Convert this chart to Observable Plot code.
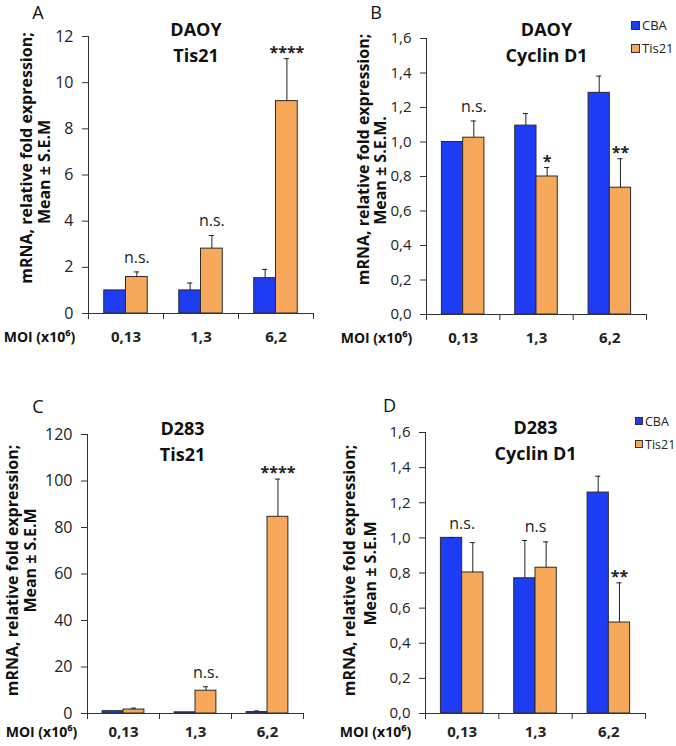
<!DOCTYPE html>
<html><head><meta charset="utf-8">
<script src="https://cdn.jsdelivr.net/npm/d3@7"></script>
<script src="https://cdn.jsdelivr.net/npm/@observablehq/plot@0.6"></script>
<style>
body{margin:0;background:#fff;font-family:"Open Sans",sans-serif;}
#root{position:relative;width:676px;height:746px;overflow:hidden;background:#fff}
.panel{position:absolute}
.li{position:absolute;display:flex;align-items:center;white-space:nowrap;color:#222;font-family:"Open Sans",sans-serif}
.sw{display:inline-block;border:1px solid #333;box-sizing:border-box;margin-right:2px}
</style></head><body><div id="root"></div>
<script>
// ---------- data ----------
const moi = ["0,13", "1,3", "6,2"];
const seriesNames = ["CBA", "Tis21"];
const seriesColors = ["#1f3cf5", "#f7a85b"];

// Panel A: DAOY Tis21
const aCBA = [1.0, 1.0, 1.53];
const aCBAsem = [0, 0.32, 0.38];
const aTis = [1.58, 2.81, 9.2];
const aTisSem = [0.22, 0.57, 1.84];
const aTicks = [0, 2, 4, 6, 8, 10, 12];
const aNotes = [{i: 0, label: "n.s.", over: "Tis21"}, {i: 1, label: "n.s.", over: "Tis21"}, {i: 2, label: "****", over: "Tis21"}];

// Panel B: DAOY Cyclin D1
const bCBA = [1.0, 1.095, 1.285];
const bCBAsem = [0, 0.07, 0.097];
const bTis = [1.025, 0.80, 0.735];
const bTisSem = [0.097, 0.052, 0.168];
const bTicks = [0, 0.2, 0.4, 0.6, 0.8, 1.0, 1.2, 1.4, 1.6];
const bNotes = [{i: 0, label: "n.s.", over: "Tis21"}, {i: 1, label: "*", over: "Tis21"}, {i: 2, label: "**", over: "Tis21"}];

// Panel C: D283 Tis21
const cCBA = [1.0, 0.5, 0.6];
const cCBAsem = [0, 0, 0.5];
const cTis = [1.7, 9.8, 84.6];
const cTisSem = [0.6, 1.7, 16.2];
const cTicks = [0, 20, 40, 60, 80, 100, 120];
const cNotes = [{i: 1, label: "n.s.", over: "Tis21"}, {i: 2, label: "****", over: "Tis21"}];

// Panel D: D283 Cyclin D1
const dCBA = [1.0, 0.77, 1.258];
const dCBAsem = [0.002, 0.215, 0.093];
const dTis = [0.803, 0.83, 0.518];
const dTisSem = [0.17, 0.147, 0.226];
const dTicks = [0, 0.2, 0.4, 0.6, 0.8, 1.0, 1.2, 1.4, 1.6];
const dNotes = [{i: 0, label: "n.s.", over: "both"}, {i: 1, label: "n.s", over: "both"}, {i: 2, label: "**", over: "Tis21"}];

// ---------- drawing ----------
const FONT = "Open Sans";
const slot = {CBA: [0.21, 0.5], Tis21: [0.5, 0.79]};
const mid = s => (slot[s][0] + slot[s][1]) / 2;
const comma1 = d => d.toFixed(1).replace(".", ",");

function panel(cfg) {
  const rows = moi.flatMap((m, i) => [
    {i, series: "CBA", value: cfg.cba[i], sem: cfg.cbaSem[i]},
    {i, series: "Tis21", value: cfg.tis[i], sem: cfg.tisSem[i]}
  ]);
  const errs = rows.filter(d => d.sem > 0);
  const notes = cfg.notes.map(n => {
    const c = rows.find(r => r.i === n.i && r.series === "CBA");
    const t = rows.find(r => r.i === n.i && r.series === "Tis21");
    const top = n.over === "both" ? Math.max(c.value + c.sem, t.value + t.sem) : t.value + t.sem;
    return {...n, x: n.over === "both" ? n.i + 0.5 : n.i + mid("Tis21"), y: top};
  });
  const stars = notes.filter(n => n.label.startsWith("*"));
  const ns = notes.filter(n => !n.label.startsWith("*"));
  const [mt, mr, mb, ml] = cfg.margin;
  const el = Plot.plot({
    width: cfg.width, height: cfg.height,
    marginTop: mt, marginRight: mr, marginBottom: mb, marginLeft: ml,
    style: {fontFamily: FONT, fontSize: "15px", color: "#222", background: "transparent", overflow: "visible"},
    x: {domain: [0, 3]},
    y: {domain: [cfg.yTicks[0], cfg.yTicks[cfg.yTicks.length - 1]]},
    color: {domain: seriesNames, range: seriesColors},
    marks: [
      Plot.rect(rows, {x1: d => d.i + slot[d.series][0], x2: d => d.i + slot[d.series][1], y1: 0, y2: "value", fill: "series", stroke: "#2b2b2b", strokeWidth: 1}),
      Plot.ruleX(errs, {x: d => d.i + mid(d.series), y1: "value", y2: d => d.value + d.sem, stroke: "#222", strokeWidth: 1}),
      Plot.ruleY(errs, {y: d => d.value + d.sem, x1: d => d.i + mid(d.series) - 0.035, x2: d => d.i + mid(d.series) + 0.035, stroke: "#222", strokeWidth: 1}),
      Plot.ruleY([0], {stroke: "#333"}),
      Plot.ruleX([0], {stroke: "#333"}),
      Plot.axisY({ticks: cfg.yTicks, tickFormat: cfg.yFormat, tickSize: 6, tickPadding: 9, label: null, fontSize: cfg.tickFont, stroke: "#333"}),
      Plot.axisX({ticks: [0, 1, 2, 3], tickFormat: () => "", tickSize: 6, label: null, stroke: "#333"}),
      Plot.axisX({ticks: [0.5, 1.5, 2.5], tickFormat: d => moi[Math.floor(d)], tickSize: 0, tickPadding: cfg.catPad, label: null, fontWeight: "bold", fontSize: 15}),
      Plot.text(ns, {x: "x", y: "y", text: "label", lineAnchor: "bottom", dy: -9, fontSize: 16, fill: "#222"}),
      Plot.text(stars, {x: "x", y: "y", text: "label", lineAnchor: "bottom", dy: -1, fontSize: 16, fontWeight: "bold", fill: "#222"}),
      Plot.text([cfg.title], {frameAnchor: "top", lineAnchor: "middle", dx: cfg.titleD[0], dy: cfg.titleD[1], fontSize: 18, fontWeight: "bold", lineHeight: 1.45, fill: "#111"}),
      Plot.text([cfg.letter], {frameAnchor: "top-left", lineAnchor: "middle", textAnchor: "middle", dx: cfg.letterD[0], dy: cfg.letterD[1], fontSize: 18, fill: "#111"}),
      Plot.text([cfg.ylab[0]], {frameAnchor: "left", rotate: -90, textAnchor: "middle", lineAnchor: "middle", dx: cfg.ylab1D[0], dy: cfg.ylab1D[1], fontSize: 16, fontWeight: "bold", fill: "#111"}),
      Plot.text([cfg.ylab[1]], {frameAnchor: "left", rotate: -90, textAnchor: "middle", lineAnchor: "middle", dx: cfg.ylab2D[0], dy: cfg.ylab2D[1], fontSize: 16, fontWeight: "bold", fill: "#111"}),
      Plot.text(["MOI (x10⁶)"], {frameAnchor: "bottom-left", textAnchor: "middle", lineAnchor: "middle", dx: cfg.moiD[0], dy: cfg.moiD[1], fontSize: 14, fontWeight: "bold", fill: "#111"})
    ]
  });
  el.classList.add("panel");
  el.style.left = cfg.left + "px";
  el.style.top = cfg.top + "px";
  document.getElementById("root").appendChild(el);
}

const intFmt = d => String(d);

panel({left: 0, top: 0, width: 338, height: 360, margin: [36, 25, 47, 88],
  cba: aCBA, cbaSem: aCBAsem, tis: aTis, tisSem: aTisSem, yTicks: aTicks, yFormat: intFmt, notes: aNotes, tickFont: 16,
  title: "DAOY\nTis21", titleD: [-5, 4], letter: "A", letterD: [-50.5, -23],
  ylab: ["mRNA, relative fold expression;", "Mean ± S.E.M"], ylab1D: [-62, -17], ylab2D: [-44, -3],
  catPad: 18, moiD: [-49, 24]});

panel({left: 338, top: 0, width: 338, height: 360, margin: [38, 30, 46, 88],
  cba: bCBA, cbaSem: bCBAsem, tis: bTis, tisSem: bTisSem, yTicks: bTicks, yFormat: comma1, notes: bNotes, tickFont: 15,
  title: "DAOY\nCyclin D1", titleD: [10, 2.5], letter: "B", letterD: [-50.5, -25],
  ylab: ["mRNA, relative fold expression;", "Mean ± S.E.M."], ylab1D: [-63, -17], ylab2D: [-46, -6],
  catPad: 18, moiD: [-50, 24]});

panel({left: 0, top: 370, width: 338, height: 376, margin: [64, 35, 33, 87],
  cba: cCBA, cbaSem: cCBAsem, tis: cTis, tisSem: cTisSem, yTicks: cTicks, yFormat: intFmt, notes: cNotes, tickFont: 16,
  title: "D283\nTis21", titleD: [-13, 5.5], letter: "C", letterD: [-49.5, -27],
  ylab: ["mRNA, relative fold expression;", "Mean ± S.E.M"], ylab1D: [-75, -3.5], ylab2D: [-57, -13.5],
  catPad: 13, moiD: [-46, 19]});

panel({left: 338, top: 370, width: 338, height: 376, margin: [62, 31, 33, 87],
  cba: dCBA, cbaSem: dCBAsem, tis: dTis, tisSem: dTisSem, yTicks: dTicks, yFormat: comma1, notes: dNotes, tickFont: 15,
  title: "D283\nCyclin D1", titleD: [0, 6.5], letter: "D", letterD: [-36, -26],
  ylab: ["mRNA, relative fold expression;", "Mean ± S.E.M"], ylab1D: [-76, -2.5], ylab2D: [-55, 0.5],
  catPad: 13, moiD: [-50, 19]});

// legends (HTML)
function legend(x, y0, gap, size, fontSize) {
  const root = document.getElementById("root");
  seriesNames.forEach((s, k) => {
    const item = document.createElement("div");
    item.className = "li";
    item.style.left = x + "px";
    item.style.top = (y0 + k * gap - 10) + "px";
    item.style.height = "20px";
    item.style.fontSize = fontSize + "px";
    const sw = document.createElement("span");
    sw.className = "sw";
    sw.style.width = size + "px";
    sw.style.height = size + "px";
    sw.style.background = seriesColors[k];
    const tx = document.createElement("span");
    tx.textContent = s;
    item.appendChild(sw);
    item.appendChild(tx);
    root.appendChild(item);
  });
}
legend(631, 25, 23, 9, 13);
legend(635, 421, 23, 8, 12.5);
</script></body></html>
